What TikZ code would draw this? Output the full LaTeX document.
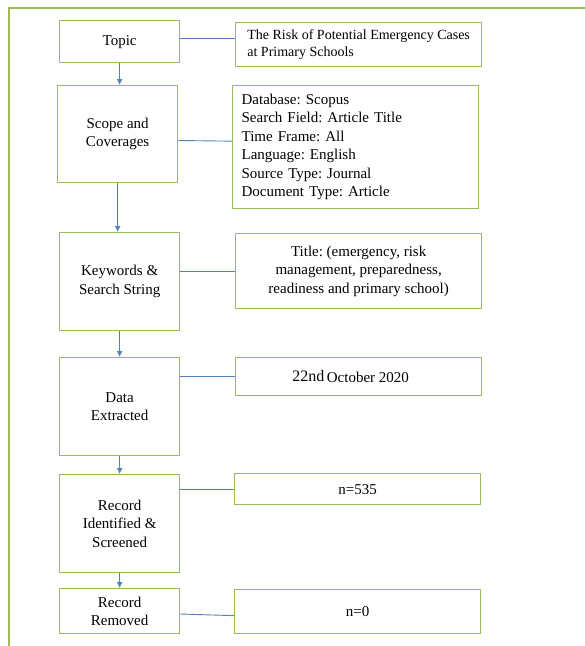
\documentclass[tikz,border=0pt]{standalone}
\usepackage{fontspec}
\setmainfont{Liberation Serif}
\usetikzlibrary{arrows.meta}
\frenchspacing

\definecolor{boxgreen}{RGB}{155,187,89}
\definecolor{linkblue}{RGB}{79,129,189}

\tikzset{
  stage/.style={draw=boxgreen, line width=1.3pt, anchor=north west,
    minimum width=120pt, align=center, inner sep=0pt,
    font=\fontsize{15}{18.5}\selectfont},
  detail/.style={draw=boxgreen, line width=1.3pt, anchor=north west,
    minimum width=246pt, inner sep=0pt, font=\fontsize{15}{18.5}\selectfont},
  link/.style={draw=linkblue, line width=0.9pt},
  flow/.style={link, -{Latex[length=6pt,width=6pt]}}
}

\begin{document}
\begin{tikzpicture}[x=1pt, y=-1pt]
    \path[use as bounding box] (0,0) rectangle (585,646);
    \begin{scope}
      \clip (0,0) rectangle (585,646);
      \draw[boxgreen, line width=1.3pt] (9,8) rectangle (620,680);
    \end{scope}

    % left column
    \node[stage, minimum height=42pt] (topic) at (59,20) {Topic};
    \node[stage, minimum height=97pt] (scope) at (57,85) {Scope and\\Coverages};
    \node[stage, minimum height=98pt] (keywords) at (59,232) {Keywords \&\\Search String};
    \node[stage, minimum height=98pt] (data) at (59,357) {Data\\Extracted};
    \node[stage, minimum height=98pt] (record) at (59,474) {Record\\Identified \&\\Screened};
    \node[stage, minimum height=45pt] (removed) at (59,588) {Record\\Removed};

    % right column
    \node[detail, minimum height=44pt, align=left,
      font=\fontsize{14}{17}\selectfont]
      (topicinfo) at (235,22) {The Risk of Potential Emergency Cases\\at Primary Schools};
    \node[detail, minimum height=123pt, text width=228pt, align=left, inner xsep=9pt]
      (scopeinfo) at (232,85) {Database: Scopus\\Search Field: Article Title\\Time Frame: All\\
      Language: English\\Source Type: Journal\\Document Type: Article};
    \node[detail, minimum height=75pt, align=center]
      (keywordsinfo) at (235,233) {Title: (emergency, risk\\management, preparedness,\\readiness and primary school)};
    \node[detail, minimum height=38pt, align=center]
      (datainfo) at (235,357) {\raisebox{1pt}{\fontsize{16}{18}\selectfont 22nd}\,October 2020\hspace{16pt}\raisebox{5pt}{}};
    \node[detail, minimum height=31pt, align=center]
      (recordinfo) at (234,473) {n=535};
    \node[detail, minimum height=44pt, align=center]
      (removedinfo) at (234,589) {n=0};

    % links
    \draw[link] (topicinfo.west) ++(0,-6) -- ++(-55,0);
    \draw[link] (scopeinfo.west) ++(0,-6) -- (scope.east |- 0,140.5);
    \draw[link] (keywordsinfo.west) -- (keywordsinfo.west -| keywords.east);
    \draw[link] (datainfo.west) -- (datainfo.west -| data.east);
    \draw[link] (recordinfo.west) -- (recordinfo.west -| record.east);
    \draw[link] (removedinfo.west) ++(0,4) -- (removed.east |- 0,614);

    % flow
    \draw[flow] (topic.south) -- (topic.south |- scope.north);
    \draw[flow] (scope.south) -- (scope.south |- keywords.north);
    \draw[flow] (keywords.south) -- (keywords.south |- data.north);
    \draw[flow] (data.south) -- (data.south |- record.north);
    \draw[flow] (record.south) -- (record.south |- removed.north);
\end{tikzpicture}
\end{document}
